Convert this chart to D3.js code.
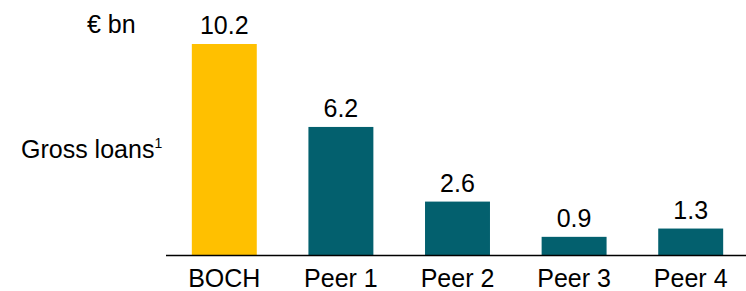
<!DOCTYPE html>
<html>
<head>
<meta charset="utf-8">
<script src="https://cdn.jsdelivr.net/npm/d3@7"></script>
<style>
  body { margin: 0; background: #fff; }
  text { font-family: "Liberation Sans", Arial, sans-serif; fill: #000; }
</style>
</head>
<body>
<svg width="746" height="291"></svg>
<script>
const categories = ["BOCH", "Peer 1", "Peer 2", "Peer 3", "Peer 4"];
const values = [10.2, 6.2, 2.6, 0.9, 1.3];
const barColors = ["#FFC000", "#03606E", "#03606E", "#03606E", "#03606E"];

var svg = d3.select("svg");
var fontSize = 25;

var x = d3.scaleBand()
  .domain(categories)
  .range([166, 749])
  .paddingInner(0.443)
  .paddingOuter(0.2215);

var y = d3.scaleLinear()
  .domain([0, 10.2])
  .range([255.5, 44]);

var data = categories.map(function(c, i) {
  return { cat: c, value: values[i], color: barColors[i] };
});

// bars
svg.append("g").selectAll("rect")
  .data(data)
  .enter()
  .append("rect")
    .attr("x", function(d) { return x(d.cat); })
    .attr("y", function(d) { return y(d.value); })
    .attr("width", x.bandwidth())
    .attr("height", function(d) { return y(0) - y(d.value); })
    .attr("fill", function(d) { return d.color; });

// value labels
svg.append("g").selectAll("text")
  .data(data)
  .enter()
  .append("text")
    .attr("x", function(d) { return x(d.cat) + x.bandwidth() / 2; })
    .attr("y", function(d) { return y(d.value) - 10; })
    .attr("text-anchor", "middle")
    .style("font-size", fontSize + "px")
    .text(function(d) { return d.value.toFixed(1); });

// baseline axis
var axis = svg.append("g")
  .attr("transform", "translate(0," + y(0) + ")")
  .call(d3.axisBottom(x).tickSize(0).tickPadding(0));
axis.select(".domain")
  .attr("d", "M166,0H746")
  .attr("stroke", "#000")
  .attr("stroke-width", 1.5);
axis.selectAll(".tick text")
  .style("font-size", fontSize + "px")
  .attr("font-family", null)
  .attr("y", 31)
  .attr("dy", 0);

// unit + series label
svg.append("text")
  .attr("x", 87).attr("y", 33)
  .style("font-size", fontSize + "px")
  .text("€ bn");

var lbl = svg.append("text")
  .attr("x", 21).attr("y", 158)
  .style("font-size", fontSize + "px")
  .text("Gross loans");
lbl.append("tspan")
  .attr("dy", -10)
  .style("font-size", "14px")
  .text("1");
</script>
</body>
</html>
